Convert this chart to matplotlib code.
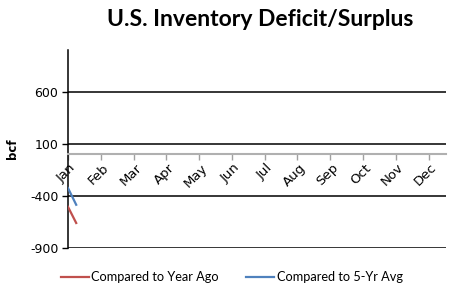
import matplotlib
matplotlib.use("Agg")
import matplotlib.pyplot as plt
import matplotlib.transforms as mtransforms
import numpy as np

plt.rcParams["axes.unicode_minus"] = False

months = ["Jan", "Feb", "Mar", "Apr", "May", "Jun",
          "Jul", "Aug", "Sep", "Oct", "Nov", "Dec"]
# weekly readings, position in months from the start of Jan
weeks = [0.0, 0.25]
vs_year_ago = [-505, -660]
vs_5yr_avg = [-325, -485]
y_ticks = [-900, -400, 100, 600]

fig = plt.figure(figsize=(4.7, 3.07), dpi=100)
ax = fig.add_axes([68 / 470, 1 - 248 / 307, 378 / 470, 198 / 307])

for y in y_ticks:
    ax.axhline(y, color="black", linewidth=1.1, zorder=1)

ax.plot(weeks, vs_year_ago, color="#C0504D", linewidth=1.6,
        label="Compared to Year Ago", zorder=3)
ax.plot(weeks, vs_5yr_avg, color="#4F81BD", linewidth=1.6,
        label="Compared to 5-Yr Avg", zorder=3)

ax.set_xlim(0, 11.53)
ax.set_ylim(-900, 1000)
ax.set_yticks(y_ticks)
ax.tick_params(axis="y", labelsize=9, length=4, width=1, pad=3)

ax.spines["top"].set_visible(False)
ax.spines["right"].set_visible(False)
ax.spines["left"].set_color("black")
ax.spines["left"].set_linewidth(1.1)
ax.spines["bottom"].set_position(("data", 0))
ax.spines["bottom"].set_color("#B0B0B0")
ax.spines["bottom"].set_linewidth(1.5)

ax.set_xticks(np.arange(len(months)))
ax.set_xticklabels(months, rotation=45, ha="right", va="center",
                   rotation_mode="anchor", fontsize=9.5)
ax.tick_params(axis="x", length=4, width=1, color="#A0A0A0", pad=5)
shift = mtransforms.ScaledTranslation(6 / 100, 1 / 100, fig.dpi_scale_trans)
for lbl in ax.get_xticklabels():
    lbl.set_transform(lbl.get_transform() + shift)

ax.set_ylabel("bcf", fontsize=8.5, fontweight="bold", labelpad=8)

fig.text(0.553, 0.935, "U.S. Inventory Deficit/Surplus", ha="center",
         va="center", fontsize=16.5, fontweight="bold", family="Lato")

fig.legend(loc="center", bbox_to_anchor=(0.493, 1 - 277 / 307), ncol=2,
           frameon=False, handlelength=2.2, handletextpad=0.2,
           columnspacing=2.1, prop={"family": "Lato", "size": 9.2})

fig.savefig("out.png", dpi=100)
